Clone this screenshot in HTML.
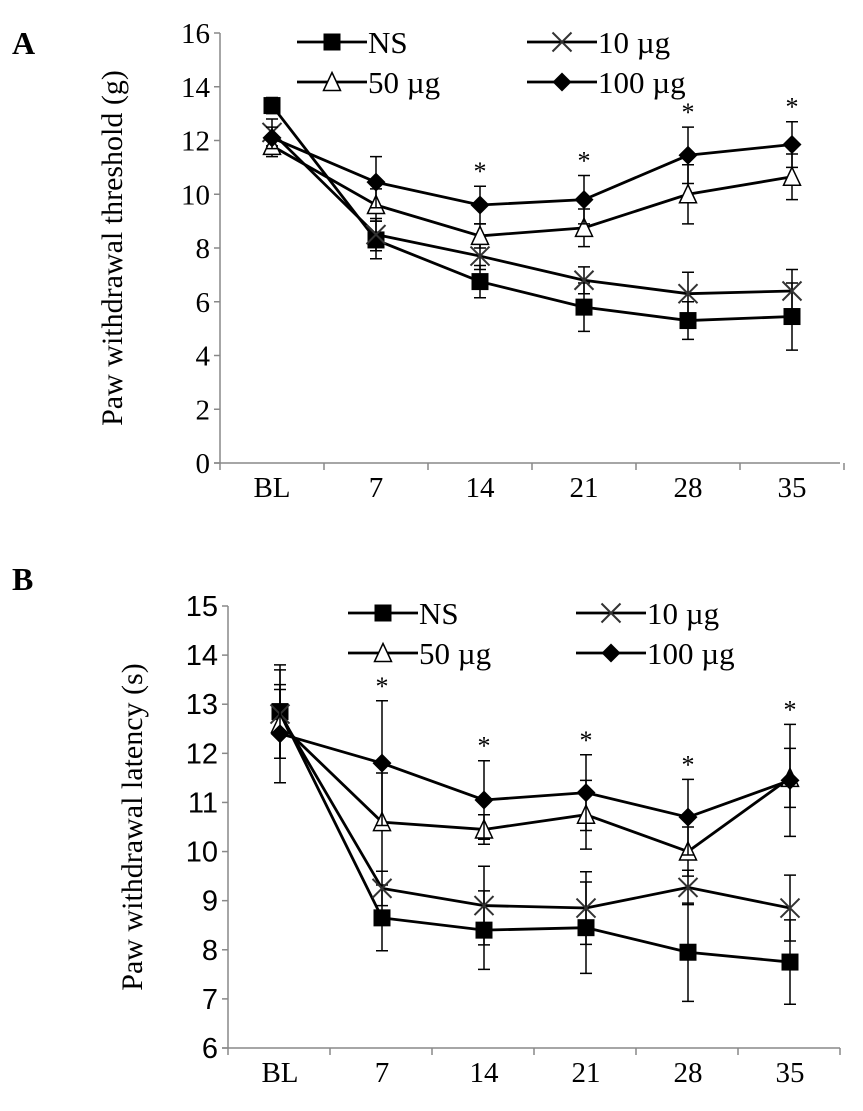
<!DOCTYPE html>
<html><head><meta charset="utf-8"><style>
html,body{margin:0;padding:0;background:#fff;width:863px;height:1111px;overflow:hidden}
svg{display:block}
</style></head><body>
<svg id="fig" width="863" height="1111" viewBox="0 0 863 1111" xmlns="http://www.w3.org/2000/svg" font-family="Liberation Serif, serif">
<text x="12" y="54" font-size="32" font-weight="bold">A</text>
<text x="12" y="590" font-size="32" font-weight="bold">B</text>
<g id="chartA"></g>
<g id="chartB"></g>
</svg>
<script>
const categories = ["BL","7","14","21","28","35"];
const seriesNames = ["NS","10 µg","50 µg","100 µg"];
const markers = ["square","x","triangle","diamond"];
// Panel A
const aNS = [13.3, 8.3, 6.75, 5.8, 5.3, 5.45];
const aNSerr = [0.3, 0.7, 0.6, 0.9, 0.7, 1.25];
const a10 = [12.3, 8.5, 7.7, 6.8, 6.3, 6.4];
const a10err = [0.5, 0.6, 0.5, 0.5, 0.8, 0.8];
const a50 = [11.8, 9.6, 8.45, 8.75, 10.0, 10.65];
const a50err = [0.4, 0.6, 0.45, 0.7, 1.1, 0.85];
const a100 = [12.1, 10.45, 9.6, 9.8, 11.45, 11.85];
const a100err = [0.4, 0.95, 0.7, 0.9, 1.05, 0.85];
const aTicks = [0,2,4,6,8,10,12,14,16];
const aStars = [false,false,true,true,true,true];
// Panel B
const bNS = [12.85, 8.65, 8.4, 8.45, 7.95, 7.75];
const bNSerr = [0.95, 0.67, 0.8, 0.93, 1.0, 0.86];
const b10 = [12.8, 9.25, 8.9, 8.85, 9.27, 8.85];
const b10err = [0.9, 0.35, 0.8, 0.74, 0.35, 0.67];
const b50 = [12.6, 10.6, 10.45, 10.75, 10.0, 11.5];
const b50err = [0.7, 1.0, 0.3, 0.7, 0.5, 0.6];
const b100 = [12.4, 11.8, 11.05, 11.2, 10.7, 11.45];
const b100err = [1.0, 1.27, 0.8, 0.77, 0.77, 1.14];
const bTicks = [6,7,8,9,10,11,12,13,14,15];
const bStars = [false,true,true,true,true,true];

const NS="http://www.w3.org/2000/svg";
function mk(parent,tag,attrs,text){const e=document.createElementNS(NS,tag);for(const k in attrs)e.setAttribute(k,attrs[k]);if(text!==undefined)e.textContent=text;parent.appendChild(e);return e;}

function marker(g,type,x,y,size){
  let e;
  if(type==="square"){e=mk(g,"rect",{x:x-size,y:y-size,width:2*size,height:2*size,fill:"#000"});}
  else if(type==="diamond"){e=mk(g,"polygon",{points:`${x},${y-size-1} ${x+size+1},${y} ${x},${y+size+1} ${x-size-1},${y}`,fill:"#000"});}
  else if(type==="triangle"){e=mk(g,"polygon",{points:`${x},${y-size-1} ${x+size},${y+size} ${x-size},${y+size}`,fill:"#fff",stroke:"#000","stroke-width":1.5});}
  else {e=mk(g,"path",{d:`M${x-size} ${y-size}L${x+size} ${y+size}M${x-size} ${y+size}L${x+size} ${y-size}`,stroke:"#333","stroke-width":2});}
  return e;
}

function drawChart(cfg){
  const g=document.getElementById(cfg.id);
  const {x0,x1,yTop,yBot,vMin,vMax,catX0,catStep}=cfg;
  const yS=v=>yBot-(v-vMin)/(vMax-vMin)*(yBot-yTop);
  const xS=i=>catX0+i*catStep;
  const ax=mk(g,"line",{x1:x0,y1:yTop,x2:x0,y2:yBot,stroke:"#888","stroke-width":1.5});
  
  
  const xa=mk(g,"line",{x1:x0-6,y1:yBot,x2:x1,y2:yBot,stroke:"#888","stroke-width":1.5});
  
  
  cfg.ticks.forEach(t=>{
    mk(g,"line",{x1:x0-6,y1:yS(t),x2:x0,y2:yS(t),stroke:"#888","stroke-width":1.5});
    const tl=mk(g,"text",{x:x0-10,y:yS(t)+10,"font-size":29,"text-anchor":"end","font-family":cfg.tickFont},String(t));
    
    
  });
  for(let i=0;i<=categories.length;i++){
    const xx=x0+i*catStep;
    mk(g,"line",{x1:xx,y1:yBot,x2:xx,y2:yBot+7,stroke:"#888","stroke-width":1.5});
  }
  categories.forEach((c,i)=>{
    const t=mk(g,"text",{x:xS(i),y:yBot+34,"font-size":29,"text-anchor":"middle"},c);
    
    
  });
  const yt=mk(g,"text",{transform:`translate(${cfg.titleX},${(yTop+yBot)/2}) rotate(-90)`,"font-size":30,"text-anchor":"middle"},cfg.title);
  
  
  cfg.series.forEach((s,si)=>{
    const sg=mk(g,"g",{});
    
    
    s.v.forEach((v,i)=>{
      const x=xS(i),yh=yS(v+s.e[i]),yl=yS(v-s.e[i]);
      mk(sg,"path",{d:`M${x} ${yh}L${x} ${yl}M${x-6} ${yh}L${x+6} ${yh}M${x-6} ${yl}L${x+6} ${yl}`,stroke:"#000","stroke-width":1.5,fill:"none"});
    });
    const pts=s.v.map((v,i)=>`${xS(i)},${yS(v)}`).join(" ");
    const pl=mk(sg,"polyline",{points:pts,fill:"none",stroke:"#000","stroke-width":2.8});
    
    
    s.v.forEach((v,i)=>{
      const m=marker(sg,markers[si],xS(i),yS(v),si===1?9.5:8.5);
      
      
    });
  });
  cfg.stars.forEach((st,i)=>{
    if(!st)return;
    const top=Math.max(...cfg.series.map(s=>s.v[i]+s.e[i]));
    const t=mk(g,"text",{x:xS(i),y:yS(top)-6,"font-size":26,"text-anchor":"middle"},"*");
    
    
  });
  const lg=mk(g,"g",{});
  
  
  seriesNames.forEach((n,i)=>{
    const lx=cfg.legX+(i%2)*cfg.legDx, ly=cfg.legY+Math.floor(i/2)*cfg.legDy;
    const eg=mk(lg,"g",{});
    
    
    mk(eg,"line",{x1:lx,y1:ly,x2:lx+70,y2:ly,stroke:"#000","stroke-width":2.8});
    marker(eg,markers[i],lx+35,ly,i===1?9.5:8.5);
    mk(eg,"text",{x:lx+71,y:ly+11,"font-size":31},n);
  });
}

drawChart({id:"chartA",x0:220,x1:840,yTop:33,yBot:463,vMin:0,vMax:16,catX0:272,catStep:104,
  ticks:aTicks,tickFont:"Liberation Serif, serif",title:"Paw withdrawal threshold (g)",titleX:122,
  stars:aStars,legX:297,legY:42,legDx:230,legDy:40,
  series:[{v:aNS,e:aNSerr},{v:a10,e:a10err},{v:a50,e:a50err},{v:a100,e:a100err}]});
drawChart({id:"chartB",x0:228,x1:840,yTop:606,yBot:1048,vMin:6,vMax:15,catX0:280,catStep:102,
  ticks:bTicks,tickFont:"Liberation Sans, sans-serif",title:"Paw withdrawal latency (s)",titleX:142,
  stars:bStars,legX:348,legY:613,legDx:228,legDy:40,
  series:[{v:bNS,e:bNSerr},{v:b10,e:b10err},{v:b50,e:b50err},{v:b100,e:b100err}]});
</script>
</body></html>
